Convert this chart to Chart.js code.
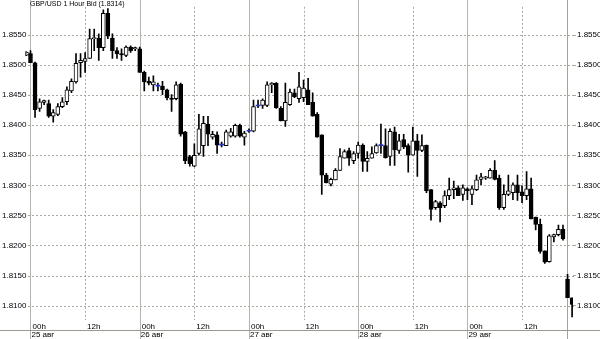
<!DOCTYPE html>
<html><head><meta charset="utf-8">
<script src="https://cdn.jsdelivr.net/npm/chart.js@4.4.0/dist/chart.umd.min.js"></script>
<style>html,body{margin:0;padding:0;background:#fff;}#wrap{width:600px;height:339px;position:relative;}</style>
</head><body><div id="wrap"><canvas id="c" width="600" height="339"></canvas></div>
<script>
const chartTitle = 'GBP/USD 1 Hour Bid (1.8314)';
const opens = [
1.8519,1.8504,1.8428,1.8438,1.8436,1.8415,1.8418,1.8431,1.8439,1.8457,
1.8472,1.8504,1.8506,1.8511,1.8544,1.8545,1.8529,1.8586,1.8545,1.8524,
1.8519,1.8516,1.8530,1.8527,1.8527,1.8488,1.8473,1.8467,1.8465,1.8465,
1.8459,1.8444,1.8444,1.8468,1.8389,1.8348,1.8332,1.8353,1.8366,1.8402,
1.8380,1.8384,1.8367,1.8366,1.8382,1.8382,1.8400,1.8380,1.8390,1.8390,
1.8432,1.8433,1.8433,1.8467,1.8470,1.8428,1.8407,1.8434,1.8454,1.8444,
1.8446,1.8459,1.8438,1.8418,1.8384,1.8317,1.8302,1.8309,1.8325,1.8345,
1.8358,1.8341,1.8353,1.8367,1.8340,1.8345,1.8354,1.8366,1.8366,1.8348,
1.8389,1.8358,1.8376,1.8366,1.8350,1.8374,1.8358,1.8367,1.8293,1.8263,
1.8271,1.8266,1.8283,1.8293,1.8296,1.8285,1.8294,1.8285,1.8293,1.8310,
1.8312,1.8312,1.8325,1.8312,1.8263,1.8285,1.8288,1.8301,1.8289,1.8283,
1.8294,1.8247,1.8235,1.8191,1.8173,1.8214,1.8218,1.8227,1.8144,1.8113];
const highs = [
1.8524,1.8505,1.8444,1.8442,1.8442,1.8426,1.8436,1.8446,1.8464,1.8477,
1.8519,1.8519,1.8521,1.8560,1.8560,1.8552,1.8592,1.8594,1.8552,1.8529,
1.8527,1.8532,1.8532,1.8530,1.8530,1.8490,1.8480,1.8482,1.8470,1.8473,
1.8460,1.8451,1.8472,1.8470,1.8390,1.8350,1.8369,1.8418,1.8415,1.8415,
1.8390,1.8389,1.8372,1.8392,1.8395,1.8402,1.8402,1.8390,1.8394,1.8442,
1.8442,1.8444,1.8472,1.8471,1.8471,1.8431,1.8470,1.8460,1.8460,1.8488,
1.8475,1.8478,1.8454,1.8421,1.8384,1.8320,1.8312,1.8328,1.8361,1.8359,
1.8362,1.8356,1.8372,1.8369,1.8356,1.8364,1.8369,1.8402,1.8394,1.8394,
1.8397,1.8385,1.8385,1.8369,1.8397,1.8385,1.8384,1.8367,1.8293,1.8275,
1.8273,1.8291,1.8312,1.8307,1.8299,1.8301,1.8296,1.8299,1.8317,1.8320,
1.8315,1.8328,1.8341,1.8317,1.8301,1.8317,1.8304,1.8317,1.8299,1.8323,
1.8312,1.8247,1.8244,1.8191,1.8218,1.8219,1.8234,1.8234,1.8152,1.8113];
const lows = [
1.8504,1.8413,1.8423,1.8434,1.8413,1.8405,1.8416,1.8429,1.8434,1.8454,
1.8470,1.8480,1.8488,1.8511,1.8524,1.8508,1.8524,1.8544,1.8511,1.8511,
1.8508,1.8514,1.8521,1.8524,1.8488,1.8457,1.8467,1.8457,1.8457,1.8451,
1.8442,1.8423,1.8442,1.8382,1.8336,1.8332,1.8331,1.8350,1.8348,1.8366,
1.8377,1.8353,1.8364,1.8366,1.8380,1.8380,1.8380,1.8367,1.8388,1.8389,
1.8429,1.8428,1.8431,1.8454,1.8428,1.8407,1.8398,1.8433,1.8446,1.8438,
1.8439,1.8434,1.8415,1.8380,1.8285,1.8304,1.8299,1.8309,1.8325,1.8345,
1.8333,1.8336,1.8345,1.8323,1.8323,1.8345,1.8353,1.8353,1.8345,1.8333,
1.8333,1.8353,1.8361,1.8322,1.8350,1.8315,1.8356,1.8288,1.8242,1.8260,
1.8239,1.8263,1.8276,1.8278,1.8283,1.8275,1.8276,1.8268,1.8291,1.8301,
1.8310,1.8312,1.8309,1.8260,1.8260,1.8283,1.8276,1.8275,1.8271,1.8276,
1.8244,1.8226,1.8187,1.8170,1.8172,1.8206,1.8216,1.8209,1.8113,1.8081];
const closes = [
1.8504,1.8426,1.8439,1.8441,1.8415,1.8421,1.8431,1.8439,1.8459,1.8473,
1.8503,1.8508,1.8511,1.8544,1.8545,1.8529,1.8586,1.8548,1.8524,1.8519,
1.8517,1.8530,1.8524,1.8529,1.8488,1.8472,1.8470,1.8472,1.8465,1.8459,
1.8446,1.8443,1.8467,1.8385,1.8341,1.8336,1.8350,1.8394,1.8403,1.8385,
1.8385,1.8367,1.8367,1.8389,1.8389,1.8400,1.8382,1.8387,1.8390,1.8431,
1.8432,1.8442,1.8467,1.8470,1.8429,1.8407,1.8438,1.8455,1.8447,1.8464,
1.8462,1.8434,1.8415,1.8380,1.8317,1.8304,1.8310,1.8325,1.8348,1.8356,
1.8345,1.8353,1.8367,1.8340,1.8345,1.8353,1.8366,1.8366,1.8346,1.8390,
1.8359,1.8374,1.8364,1.8350,1.8374,1.8358,1.8366,1.8291,1.8260,1.8273,
1.8263,1.8283,1.8293,1.8296,1.8283,1.8296,1.8291,1.8294,1.8309,1.8314,
1.8314,1.8325,1.8310,1.8263,1.8285,1.8291,1.8301,1.8288,1.8283,1.8294,
1.8244,1.8235,1.8190,1.8172,1.8216,1.8218,1.8227,1.8211,1.8113,1.8102];

const yTickValues = [1.8100,1.8150,1.8200,1.8250,1.8300,1.8350,1.8400,1.8450,1.8500,1.8550];
const xTickHours = [0,12,24,36,48,60,72,84,96,108];
const hourLabels = ['00h','12h','00h','12h','00h','12h','00h','12h','00h','12h'];
const dateLabels = ['25 авг','','26 авг','','27 авг','','28 авг','','29 авг',''];
const weekEndHour = 117.85;
const openMarkerHour = -0.75;

const hours = opens.map((_, i) => i);
const FONT = {family: '"Liberation Sans", Arial, sans-serif', size: 8};

const gridPlugin = {
  id: 'customGrid',
  beforeDraw(chart) {
    const {ctx, chartArea: a} = chart;
    const x = chart.scales.x, y = chart.scales.y;
    ctx.save();
    ctx.lineWidth = 1;
    ctx.strokeStyle = '#a9a9a0';
    ctx.setLineDash([2, 2]);
    yTickValues.forEach(v => {
      const py = Math.round(y.getPixelForValue(v)) + 0.5;
      ctx.beginPath(); ctx.moveTo(a.left, py); ctx.lineTo(a.right + 1, py); ctx.stroke();
    });
    xTickHours.forEach((h, k) => {
      const px = Math.round(x.getPixelForValue(h)) + 0.5;
      if (hourLabels[k] === '00h') {
        ctx.setLineDash([]); ctx.strokeStyle = '#b4b4a8';
        ctx.beginPath(); ctx.moveTo(px, 0); ctx.lineTo(px, chart.height); ctx.stroke();
      } else {
        ctx.setLineDash([2, 2]); ctx.strokeStyle = '#a9a9a0';
        ctx.beginPath(); ctx.moveTo(px, a.top); ctx.lineTo(px, a.bottom); ctx.stroke();
      }
    });
    ctx.setLineDash([]);
    ctx.strokeStyle = '#a4a49a';
    const wx = Math.round(x.getPixelForValue(weekEndHour)) + 0.5;
    ctx.beginPath(); ctx.moveTo(wx, 0); ctx.lineTo(wx, chart.height); ctx.stroke();
    const bx = chart.scales.x2;
    const by = Math.round(bx.top) + 0.5;
    ctx.strokeStyle = '#9a9a90';
    ctx.beginPath(); ctx.moveTo(0, by); ctx.lineTo(chart.width, by); ctx.stroke();
    // white backing behind the inner left price labels
    ctx.fillStyle = '#fff';
    yTickValues.forEach(v => {
      const py = Math.round(y.getPixelForValue(v));
      ctx.fillRect(0, py - 4, 27, 9);
    });
    ctx.restore();
  },
  afterDraw(chart) {
    const ctx = chart.ctx;
    ctx.save();
    ctx.fillStyle = '#000';
    ctx.font = '7px "Liberation Sans Narrow", "Liberation Sans", Arial, sans-serif';
    ctx.textBaseline = 'top';
    ctx.fillText(chartTitle, 30, 1);
    ctx.restore();
  }
};

const isDoji = i => opens[i] === closes[i];

new Chart(document.getElementById('c'), {
  type: 'bar',
  data: {
    datasets: [
      {
        label: 'wick',
        data: hours.map(i => ({x: i, y: [lows[i], highs[i]]})),
        backgroundColor: '#000',
        barThickness: 1,
        grouped: false,
        order: 3
      },
      {
        label: 'body',
        data: hours.map(i => ({x: i, y: [opens[i], closes[i]]})),
        backgroundColor: c => isDoji(c.dataIndex) ? '#2233cc' : (closes[c.dataIndex] > opens[c.dataIndex] ? '#ffffff' : '#000000'),
        borderColor: '#000',
        borderWidth: c => isDoji(c.dataIndex) ? 0 : 1,
        borderSkipped: false,
        barThickness: 4,
        minBarLength: 1,
        grouped: false,
        order: 2
      },
      {
        type: 'scatter',
        label: 'open marker',
        data: [{x: openMarkerHour, y: opens[0]}],
        pointStyle: 'triangle',
        rotation: 90,
        radius: 2.5,
        backgroundColor: '#fff',
        borderColor: '#000',
        borderWidth: 1,
        order: 1
      }
    ]
  },
  options: {
    responsive: false,
    animation: false,
    events: [],
    layout: {padding: 0, autoPadding: false},
    plugins: {legend: {display: false}, tooltip: {enabled: false}, title: {display: false}},
    scales: {
      x: {
        type: 'linear', position: 'bottom', weight: 0,
        min: -6.7, max: 119.2, offset: false,
        grid: {display: false, drawTicks: false},
        border: {display: false},
        afterBuildTicks: s => { s.ticks = xTickHours.map(v => ({value: v})); },
        afterFit: s => { s.height = 10; },
        ticks: {
          autoSkip: false, maxRotation: 0, align: 'start', labelOffset: 2, padding: 2,
          color: '#000', font: FONT,
          callback: v => hourLabels[xTickHours.indexOf(v)]
        }
      },
      x2: {
        type: 'linear', position: 'bottom', weight: 1,
        min: -6.7, max: 119.2, offset: false,
        grid: {display: false, drawTicks: false},
        border: {display: false},
        afterBuildTicks: s => { s.ticks = xTickHours.map(v => ({value: v})); },
        afterFit: s => { s.height = 9; },
        ticks: {
          autoSkip: false, maxRotation: 0, align: 'start', labelOffset: 1, padding: 0,
          color: '#000', font: FONT,
          callback: v => dateLabels[xTickHours.indexOf(v)]
        }
      },
      y: {
        type: 'linear', position: 'right',
        min: 1.8076, max: 1.8597,
        grid: {drawOnChartArea: false, drawTicks: true, tickLength: 3, color: '#a9a9a0'},
        border: {display: false},
        afterBuildTicks: s => { s.ticks = yTickValues.map(v => ({value: v})); },
        afterFit: s => { s.width = 27; },
        ticks: {padding: 1, color: '#000', font: FONT, callback: v => v.toFixed(4)}
      },
      yL: {
        type: 'linear', position: 'left',
        min: 1.8076, max: 1.8597,
        grid: {display: false, drawTicks: false},
        border: {display: false},
        afterBuildTicks: s => { s.ticks = yTickValues.map(v => ({value: v})); },
        afterFit: s => { s.width = 0; },
        ticks: {mirror: true, padding: 2, color: '#000', font: FONT, callback: v => v.toFixed(4)}
      }
    }
  },
  plugins: [gridPlugin]
});
</script>
</body></html>
